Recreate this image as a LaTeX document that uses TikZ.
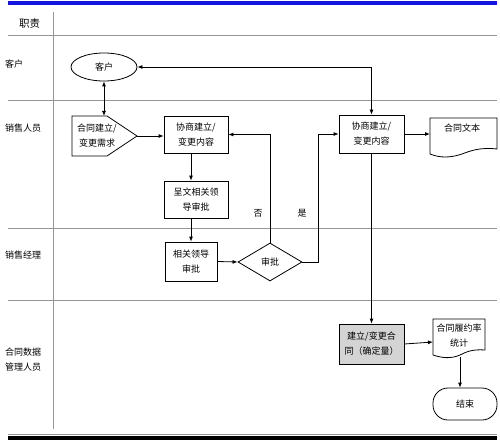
\documentclass[tikz,border=0pt]{standalone}
\usepackage{fontspec}
\setmainfont{Noto Sans CJK SC}
\usetikzlibrary{arrows.meta,shapes.geometric}
\definecolor{lanegray}{RGB}{150,150,150}
\definecolor{topblue}{RGB}{20,20,225}
\definecolor{boxgray}{RGB}{212,212,212}
\begin{document}
\begin{tikzpicture}[x=1pt,y=-1pt,
  font=\fontsize{9}{15}\selectfont,
  >={Latex[length=5pt,width=4pt]},
  lane/.style={draw=lanegray,line width=0.8pt},
  lbl/.style={inner sep=0pt,anchor=west},
  stepbox/.style={draw,line width=0.8pt,align=center,inner sep=1pt},
  conn/.style={line width=0.8pt},
  shp/.style={draw,line width=0.8pt}]
\useasboundingbox (0,0) rectangle (500,441);
% frame lines
\draw[topblue,line width=4pt] (8,3) -- (497,3);
\draw[lanegray,line width=1.5pt] (8,434.5) -- (497,434.5);
\draw[black,line width=4pt] (8,438) -- (497,438);
\draw[lane] (8,35) -- (497,35);
\draw[lane] (8,100) -- (497,100);
\draw[lane] (8,228) -- (497,228);
\draw[lane] (8,300) -- (497,300);
\draw[lane] (53,12) -- (53,429);
% lane labels
\node[inner sep=0pt,font=\fontsize{10.5}{12}\selectfont] (h0) at (29.5,24) {职责};
\node[lbl] (h1) at (5,64) {客户};
\node[lbl] (h2) at (5,128) {销售人员};
\node[lbl] (h3) at (5,255) {销售经理};
\node[lbl,align=left] (h4) at (5,360) {合同数据\\管理人员};
% customer
\node[draw,ellipse,line width=0.8pt,minimum width=66pt,minimum height=28pt,inner sep=0pt] (cust) at (104,67) {客户};
% request pentagon
\draw[shp] (72,116) -- (107,116) -- (137,136) -- (107,156) -- (72,156) -- cycle;
\node[align=center,inner sep=0pt] (req) at (97,136) {合同建立/\\变更需求};
\coordinate (reqn) at (104,116);
\coordinate (reqtip) at (137,136);
% sales boxes
\node[stepbox,minimum width=64pt,minimum height=37pt] (box1) at (196,134.5) {协商建立/\\变更内容};
\node[stepbox,minimum width=64pt,minimum height=37pt] (appr1) at (196,199.5) {呈文相关领\\导审批};
\node[stepbox,minimum width=52pt,minimum height=39pt] (appr2) at (191,261.5) {相关领导\\审批};
\node[draw,diamond,line width=0.8pt,minimum width=64pt,minimum height=38pt,inner sep=0pt] (dec) at (270,262) {审批};
\node[stepbox,minimum width=65pt,minimum height=38pt] (box2) at (371.5,134) {协商建立/\\变更内容};
\node[stepbox,fill=boxgray,minimum width=65pt,minimum height=40pt] (box3) at (371.5,344) {建立/变更合\\同（确定量）};
% documents
\draw[shp] (430,118) -- (497,118) -- (497,149) .. controls (480,147) and (470,151) .. (462,154) .. controls (450,158) and (440,158) .. (430,154) -- cycle;
\node[inner sep=0pt] (doc1) at (462,128) {合同文本};
\coordinate (doc1w) at (430,134);
\draw[shp] (433,319) -- (485,319) -- (485,350) .. controls (472,349) and (466,352) .. (460,355) .. controls (451,359) and (442,358) .. (433,355) -- cycle;
\node[align=center,inner sep=0pt] (doc2) at (459,336) {合同履约率\\统计};
\coordinate (doc2w) at (433,342);
\coordinate (doc2s) at (460,357);
% end
\node[draw,line width=0.8pt,rounded corners=15pt,minimum width=64pt,minimum height=32pt] (endn) at (465,404) {结束};
% labels
\node[inner sep=0pt] (no) at (258,213) {否};
\node[inner sep=0pt] (yes) at (302,213) {是};
\coordinate (yesx) at (318,262);
% connectors
\draw[conn,<->] (cust.south) -- (reqn);
\draw[conn,->] (reqtip) -- (reqtip -| box1.west);
\draw[conn,->] (box1.south -| appr2) -- (appr1.north -| appr2);
\draw[conn,->] (appr1.south -| appr2) -- (appr2.north);
\draw[conn,->] (appr2.east) -- (dec.west);
\draw[conn,->] (dec.north) |- (box1.east);
\draw[conn,->] (dec.east) -- (yesx) |- (box2.west);
\draw[conn,<->] (cust.east) -| (box2.north);
\draw[conn,->] (box2.east) -- (doc1w);
\draw[conn,->] (box2.south) -- (box3.north);
\draw[conn,->] (box3.east) -- (doc2w);
\draw[conn,->] (doc2s) -- (doc2s |- endn.north);
\end{tikzpicture}
\end{document}
